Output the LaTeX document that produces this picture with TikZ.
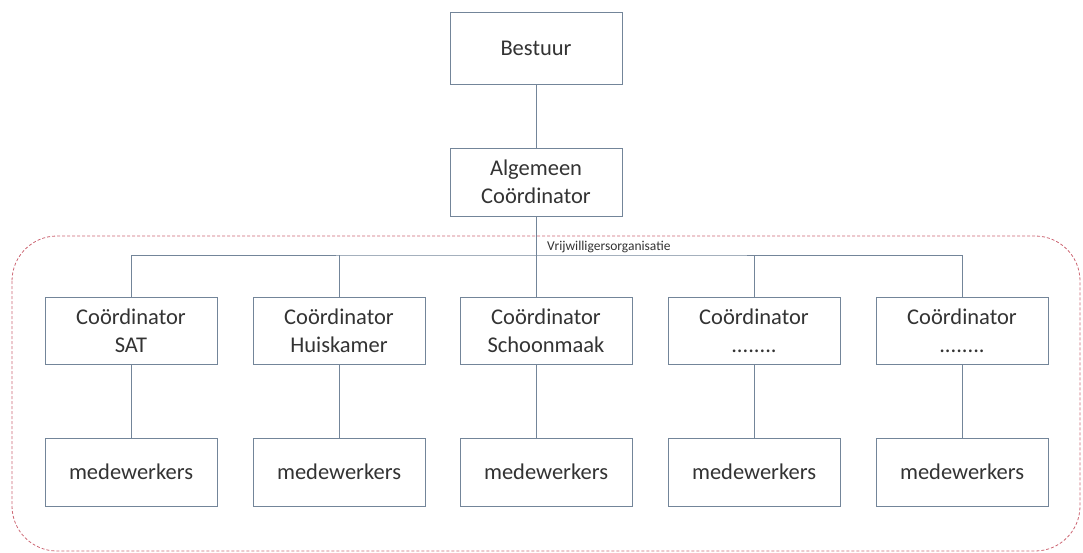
\documentclass[tikz,border=0pt]{standalone}
\usepackage{fontspec}
\setmainfont{Carlito}
\usepackage{tikz}
\usetikzlibrary{positioning}
\definecolor{mline}{rgb}{0.45, 0.52, 0.6}
\definecolor{mred}{rgb}{0.8, 0.4, 0.45}
\definecolor{mtext}{rgb}{0.2, 0.2, 0.2}
\tikzset{box/.style = {draw=mline, line width=0.8pt, fill=white, inner sep=0,
                       minimum width=172pt, minimum height=68pt, align=center,
                       text=mtext, font=\fontsize{22.5}{28}\selectfont}}
\tikzset{conn/.style = {mline, line width=0.8pt}}
\tikzset{group/.style = {mred, line width=0.8pt, dash pattern=on 3pt off 2pt,
                         rounded corners=45pt}}

\begin{document}
\begin{tikzpicture}[x=1pt, y=-1pt]
    \useasboundingbox (0, 0) rectangle (1083, 553);

    \draw [group] (12, 236) rectangle (1080, 551);

    \node [box, minimum height=72pt] (bestuur) at (536, 48) {Bestuur};
    \node [box] (alg) at (536, 182) {Algemeen\\Coördinator};

    \node [box, minimum height=67pt] (coord1) at (131, 330.5) {Coördinator\\SAT};
    \node [box, minimum height=67pt] (coord2) at (339, 330.5) {Coördinator\\Huiskamer};
    \node [box, minimum height=67pt] (coord3) at (546, 330.5) {Coördinator\\Schoonmaak};
    \node [box, minimum height=67pt] (coord4) at (754, 330.5) {Coördinator\\........};
    \node [box, minimum height=67pt] (coord5) at (962, 330.5) {Coördinator\\........};

    \node [box] (mede1) at (131, 472) {medewerkers};
    \node [box] (mede2) at (339, 472) {medewerkers};
    \node [box] (mede3) at (546, 472) {medewerkers};
    \node [box] (mede4) at (754, 472) {medewerkers};
    \node [box] (mede5) at (962, 472) {medewerkers};

    \node [anchor=base west, inner sep=0, text=mtext,
           font=\fontsize{13.5}{16}\selectfont] (vrijw) at (547, 251) {Vrijwilligersorganisatie};

    \coordinate (bar) at (536, 255);
    \draw [conn] (bestuur) -- (alg);
    \draw [conn] (alg.south) -- (alg.south |- coord3.north);
    \draw [conn] (coord1.north) |- (bar) -| (coord5.north);
    \draw [conn] (coord2.north) -- (coord2.north |- bar);
    \draw [conn] (coord4.north) -- (coord4.north |- bar);

    \draw [conn] (coord1) -- (mede1);
    \draw [conn] (coord2) -- (mede2);
    \draw [conn] (alg |- coord3.south) -- (alg |- mede3.north);
    \draw [conn] (coord4) -- (mede4);
    \draw [conn] (coord5) -- (mede5);
  \end{tikzpicture}
\end{document}
